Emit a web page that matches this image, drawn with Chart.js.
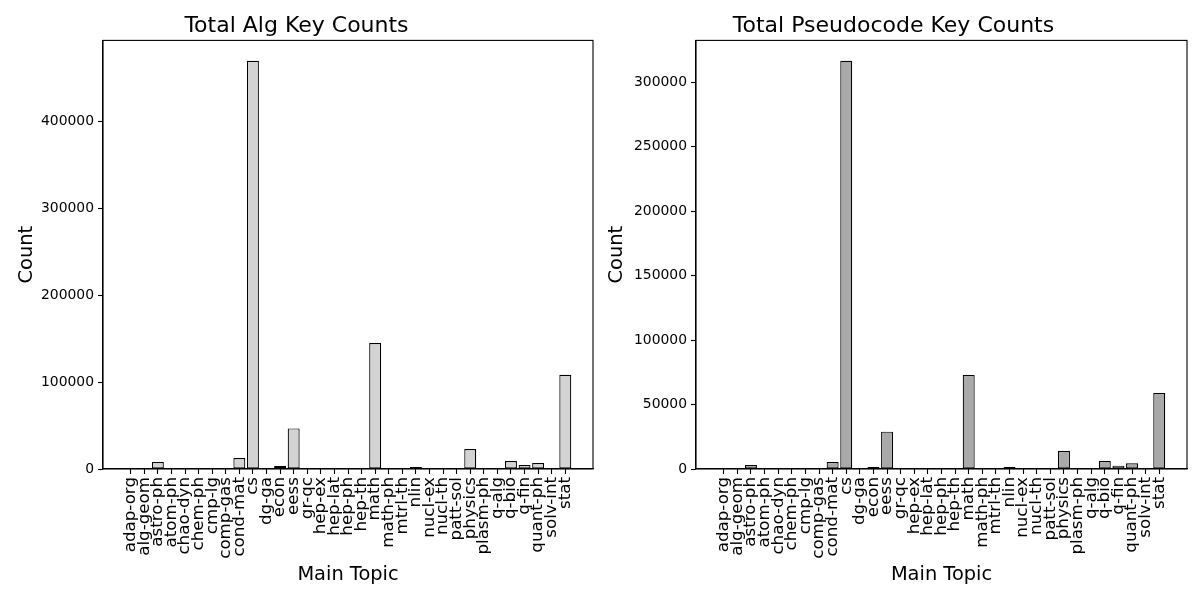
<!DOCTYPE html>
<html lang="en">
<head>
    <meta charset="UTF-8">
    <title>Key Counts</title>
    <style>
        body { margin: 0; background: #fff; }
        #wrap { display: flex; width: 1200px; height: 600px; }
        canvas { display: block; }
    </style>
</head>
<body>

<div id="wrap">
    <canvas id="algCanvas" width="600" height="600"></canvas>
    <canvas id="pseudoCanvas" width="600" height="600"></canvas>
</div>

<script src="https://cdn.jsdelivr.net/npm/chart.js@4.4.1/dist/chart.umd.min.js"></script>
<script>

var topics = ['adap-org', 'alg-geom', 'astro-ph', 'atom-ph', 'chao-dyn', 'chem-ph', 'cmp-lg',
    'comp-gas', 'cond-mat', 'cs', 'dg-ga', 'econ', 'eess', 'gr-qc', 'hep-ex', 'hep-lat',
    'hep-ph', 'hep-th', 'math', 'math-ph', 'mtrl-th', 'nlin', 'nucl-ex', 'nucl-th',
    'patt-sol', 'physics', 'plasm-ph', 'q-alg', 'q-bio', 'q-fin', 'quant-ph', 'solv-int', 'stat'];

// approximate
var algCounts = [0, 0, 8000, 0, 0, 0, 0,
    0, 12600, 469300, 0, 3400, 46700, 1100, 1000, 900,
    1100, 1100, 144800, 1200, 0, 2300, 0, 0,
    0, 23000, 0, 0, 9200, 4600, 6900, 0, 108400];

var pseudoCounts = [0, 0, 3100, 0, 0, 0, 0,
    0, 5400, 316800, 0, 1600, 29000, 0, 0, 0,
    0, 0, 73000, 800, 0, 1600, 0, 0,
    0, 14000, 0, 0, 6200, 2600, 4400, 0, 59000];

Chart.defaults.font.family = 'DejaVu Sans';
Chart.defaults.color = '#000';

// matplotlib-style box around the plot area
var frame = {
    id: 'frame',
    afterDraw: function(chart) {
        var a = chart.chartArea;
        var ctx = chart.ctx;
        ctx.save();
        ctx.strokeStyle = '#000';
        ctx.lineWidth = 1.1;
        ctx.strokeRect(a.left, a.top, a.right - a.left, a.bottom - a.top);
        ctx.restore();
    }
};

function draw_chart(id, title, counts, fill, step, axisWidth, rightPad, countPad) {
    var context = document.getElementById(id).getContext('2d');
    var points = counts.map((c, i) => ({x: i, y: c}));
    var n = topics.length;
    var margin = 0.05 * (n - 1 + 0.8);
    var top = Math.max(...counts) * 1.05;

    return new Chart(context, {
        type: 'bar',
        data: {
            datasets: [{
                data: points,
                backgroundColor: fill,
                borderColor: '#000',
                borderWidth: 1.2,
                borderSkipped: false,
                barPercentage: 0.88,
                categoryPercentage: 1.0
            }]
        },
        options: {
            responsive: false,
            animation: false,
            layout: { padding: { left: 0, right: rightPad, top: 0, bottom: 0 } },
            plugins: {
                legend: { display: false },
                tooltip: { enabled: false },
                title: {
                    display: true,
                    text: title,
                    font: { size: 22, weight: 'normal' },
                    padding: { top: 13, bottom: 1 }
                }
            },
            scales: {
                x: {
                    type: 'linear',
                    offset: false,
                    min: -0.4 - margin,
                    max: n - 1 + 0.4 + margin,
                    afterBuildTicks: function(axis) {
                        axis.ticks = topics.map((t, i) => ({value: i}));
                    },
                    afterFit: function(axis) { axis.height = 131; },
                    ticks: {
                        autoSkip: false,
                        minRotation: 90,
                        maxRotation: 90,
                        padding: 3,
                        font: { size: 16.7 },
                        callback: function(value) { return topics[value]; }
                    },
                    grid: {
                        offset: false,
                        drawOnChartArea: false,
                        drawTicks: true,
                        tickLength: 5,
                        tickWidth: 1.1,
                        tickColor: '#000'
                    },
                    border: { color: '#000', width: 1.1 },
                    title: {
                        display: true,
                        text: 'Main Topic',
                        font: { size: 19.4 },
                        padding: { top: 4, bottom: 13 }
                    }
                },
                y: {
                    min: 0,
                    max: top,
                    afterBuildTicks: function(axis) {
                        var t = [];
                        for (var v = 0; v <= top; v += step) t.push({value: v});
                        axis.ticks = t;
                    },
                    afterFit: function(axis) { axis.width = axisWidth; },
                    ticks: {
                        padding: 4,
                        font: { size: 13.9 },
                        callback: function(value) { return String(value); }
                    },
                    grid: {
                        drawOnChartArea: false,
                        drawTicks: true,
                        tickLength: 5,
                        tickWidth: 1.1,
                        tickColor: '#000'
                    },
                    border: { color: '#000', width: 1.1 },
                    title: {
                        display: true,
                        text: 'Count',
                        font: { size: 19.4 },
                        padding: { top: countPad, bottom: 4 }
                    }
                }
            }
        },
        plugins: [frame]
    });
}

draw_chart('algCanvas', 'Total Alg Key Counts', algCounts, '#d3d3d3', 100000, 103, 7, 15);
draw_chart('pseudoCanvas', 'Total Pseudocode Key Counts', pseudoCounts, '#a9a9a9', 50000, 96, 13, 5);

</script>
</body>
</html>
